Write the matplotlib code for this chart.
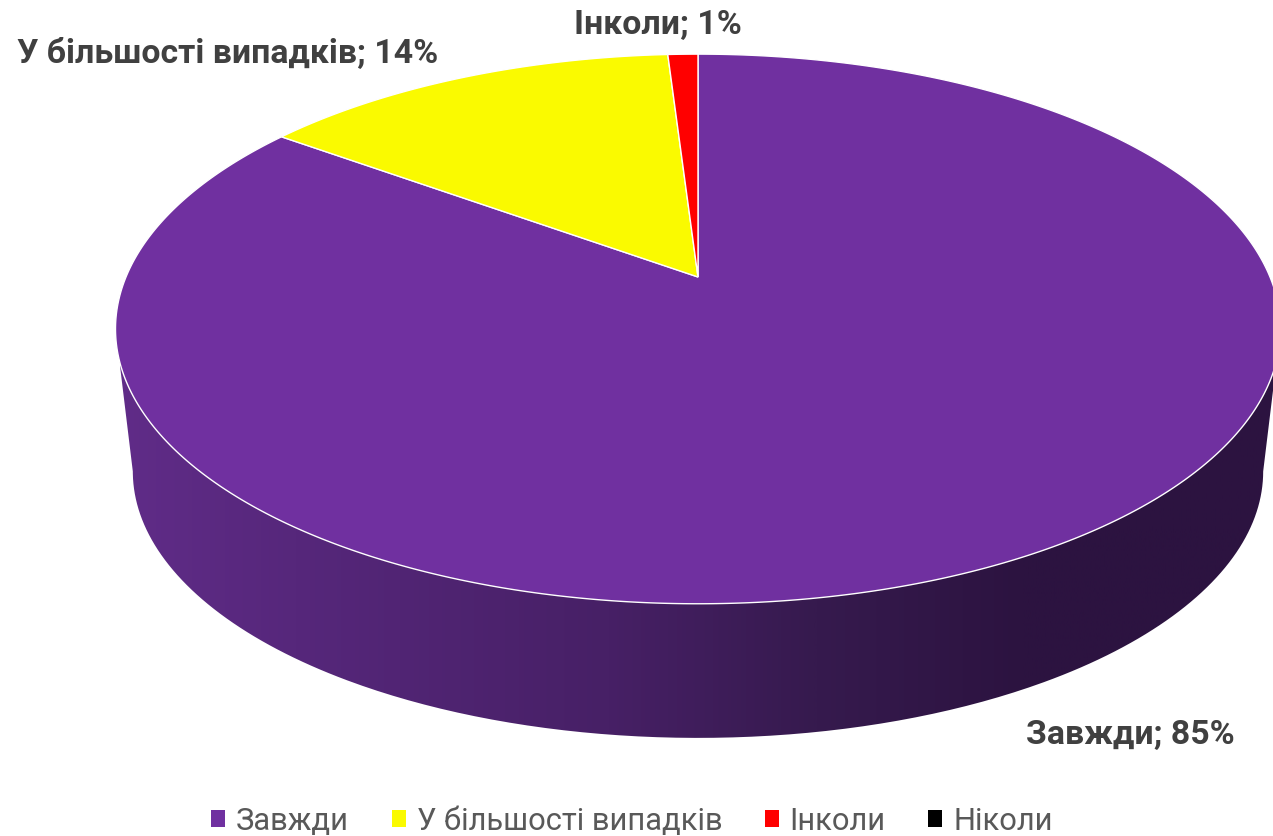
import numpy as np
import matplotlib
matplotlib.use('Agg')
import matplotlib.pyplot as plt
from matplotlib.colors import LinearSegmentedColormap
from matplotlib.patches import Patch, PathPatch
from matplotlib.path import Path

categories = ['Завжди', 'У більшості випадків', 'Інколи', 'Ніколи']
values = [85, 14, 1, 0]
colors = ['#7030A0', '#FAFA00', '#FF0000', '#000000']

W, H = 1273, 836
CX = 698
PERSP = 0.189


# circle seen in perspective: clockwise angle from 12 o'clock
def rim(theta, y0=277, a=572, b=265):
    u, v = np.sin(theta), np.cos(theta)
    d = 1 + PERSP * v
    return CX + a * u / d, y0 - b * v / d


fig = plt.figure(figsize=(W / 100, H / 100), dpi=100)
ax = fig.add_axes([0, 0, 1, 1])

# side of the disc, shaded from left to right
side_cmap = LinearSegmentedColormap.from_list('side', [
    (0.0, '#602C88'), (0.15, '#56277B'), (0.42, '#472066'),
    (0.60, '#361A4E'), (0.78, '#2C1340'), (1.0, '#2C1340')])
front = np.linspace(np.pi / 2 + 0.19, 3 * np.pi / 2 - 0.19, 300)
back = np.linspace(3 * np.pi / 2 - 0.19, 5 * np.pi / 2 + 0.19, 300)
bx, by = rim(front, y0=421, a=555, b=257)
tx, ty = rim(back)
outline = np.column_stack([np.r_[bx, tx], np.r_[by, ty]])
clip = PathPatch(Path(np.vstack([outline, outline[:1]])), fc='none', ec='none',
                 transform=ax.transData)
ax.add_patch(clip)
grad = ax.imshow(np.linspace(0, 1, 512).reshape(1, -1), cmap=side_cmap, aspect='auto',
                 extent=[120, 1280, 760, 300], vmin=0, vmax=1, zorder=1)
grad.set_clip_path(clip)

# top face
start = 0.0
total = sum(values)
for val, col in zip(values, colors):
    if val == 0:
        continue
    t = np.linspace(start, start + 2 * np.pi * val / total, max(int(val * 8), 20))
    x, y = rim(t)
    ax.fill(np.r_[CX, x], np.r_[277, y], facecolor=col, edgecolor='white', linewidth=1.0, zorder=2)
    start = t[-1]

ax.text(228, 54, 'У більшості випадків; 14%', fontsize=24.4, fontweight='bold', family='Roboto',
        color='#404040', ha='center', va='center')
ax.text(657.5, 25, 'Інколи; 1%', fontsize=24.4, fontweight='bold', family='Roboto',
        color='#404040', ha='center', va='center')
ax.text(1130.5, 735, 'Завжди; 85%', fontsize=24.4, fontweight='bold', family='Roboto',
        color='#404040', ha='center', va='center')

handles = [Patch(facecolor=c, label=n) for c, n in zip(colors, categories)]
ax.legend(handles=handles, loc='center', bbox_to_anchor=(632 / W, 1 - 821 / H), ncol=4, frameon=False,
          prop={'family': 'Roboto', 'size': 22.2}, labelcolor='#595959', handlelength=0.45, handleheight=0.45,
          handletextpad=0.36, columnspacing=1.38)

ax.set_xlim(0, W)
ax.set_ylim(H, 0)
ax.axis('off')
fig.savefig('out.png', dpi=100)
